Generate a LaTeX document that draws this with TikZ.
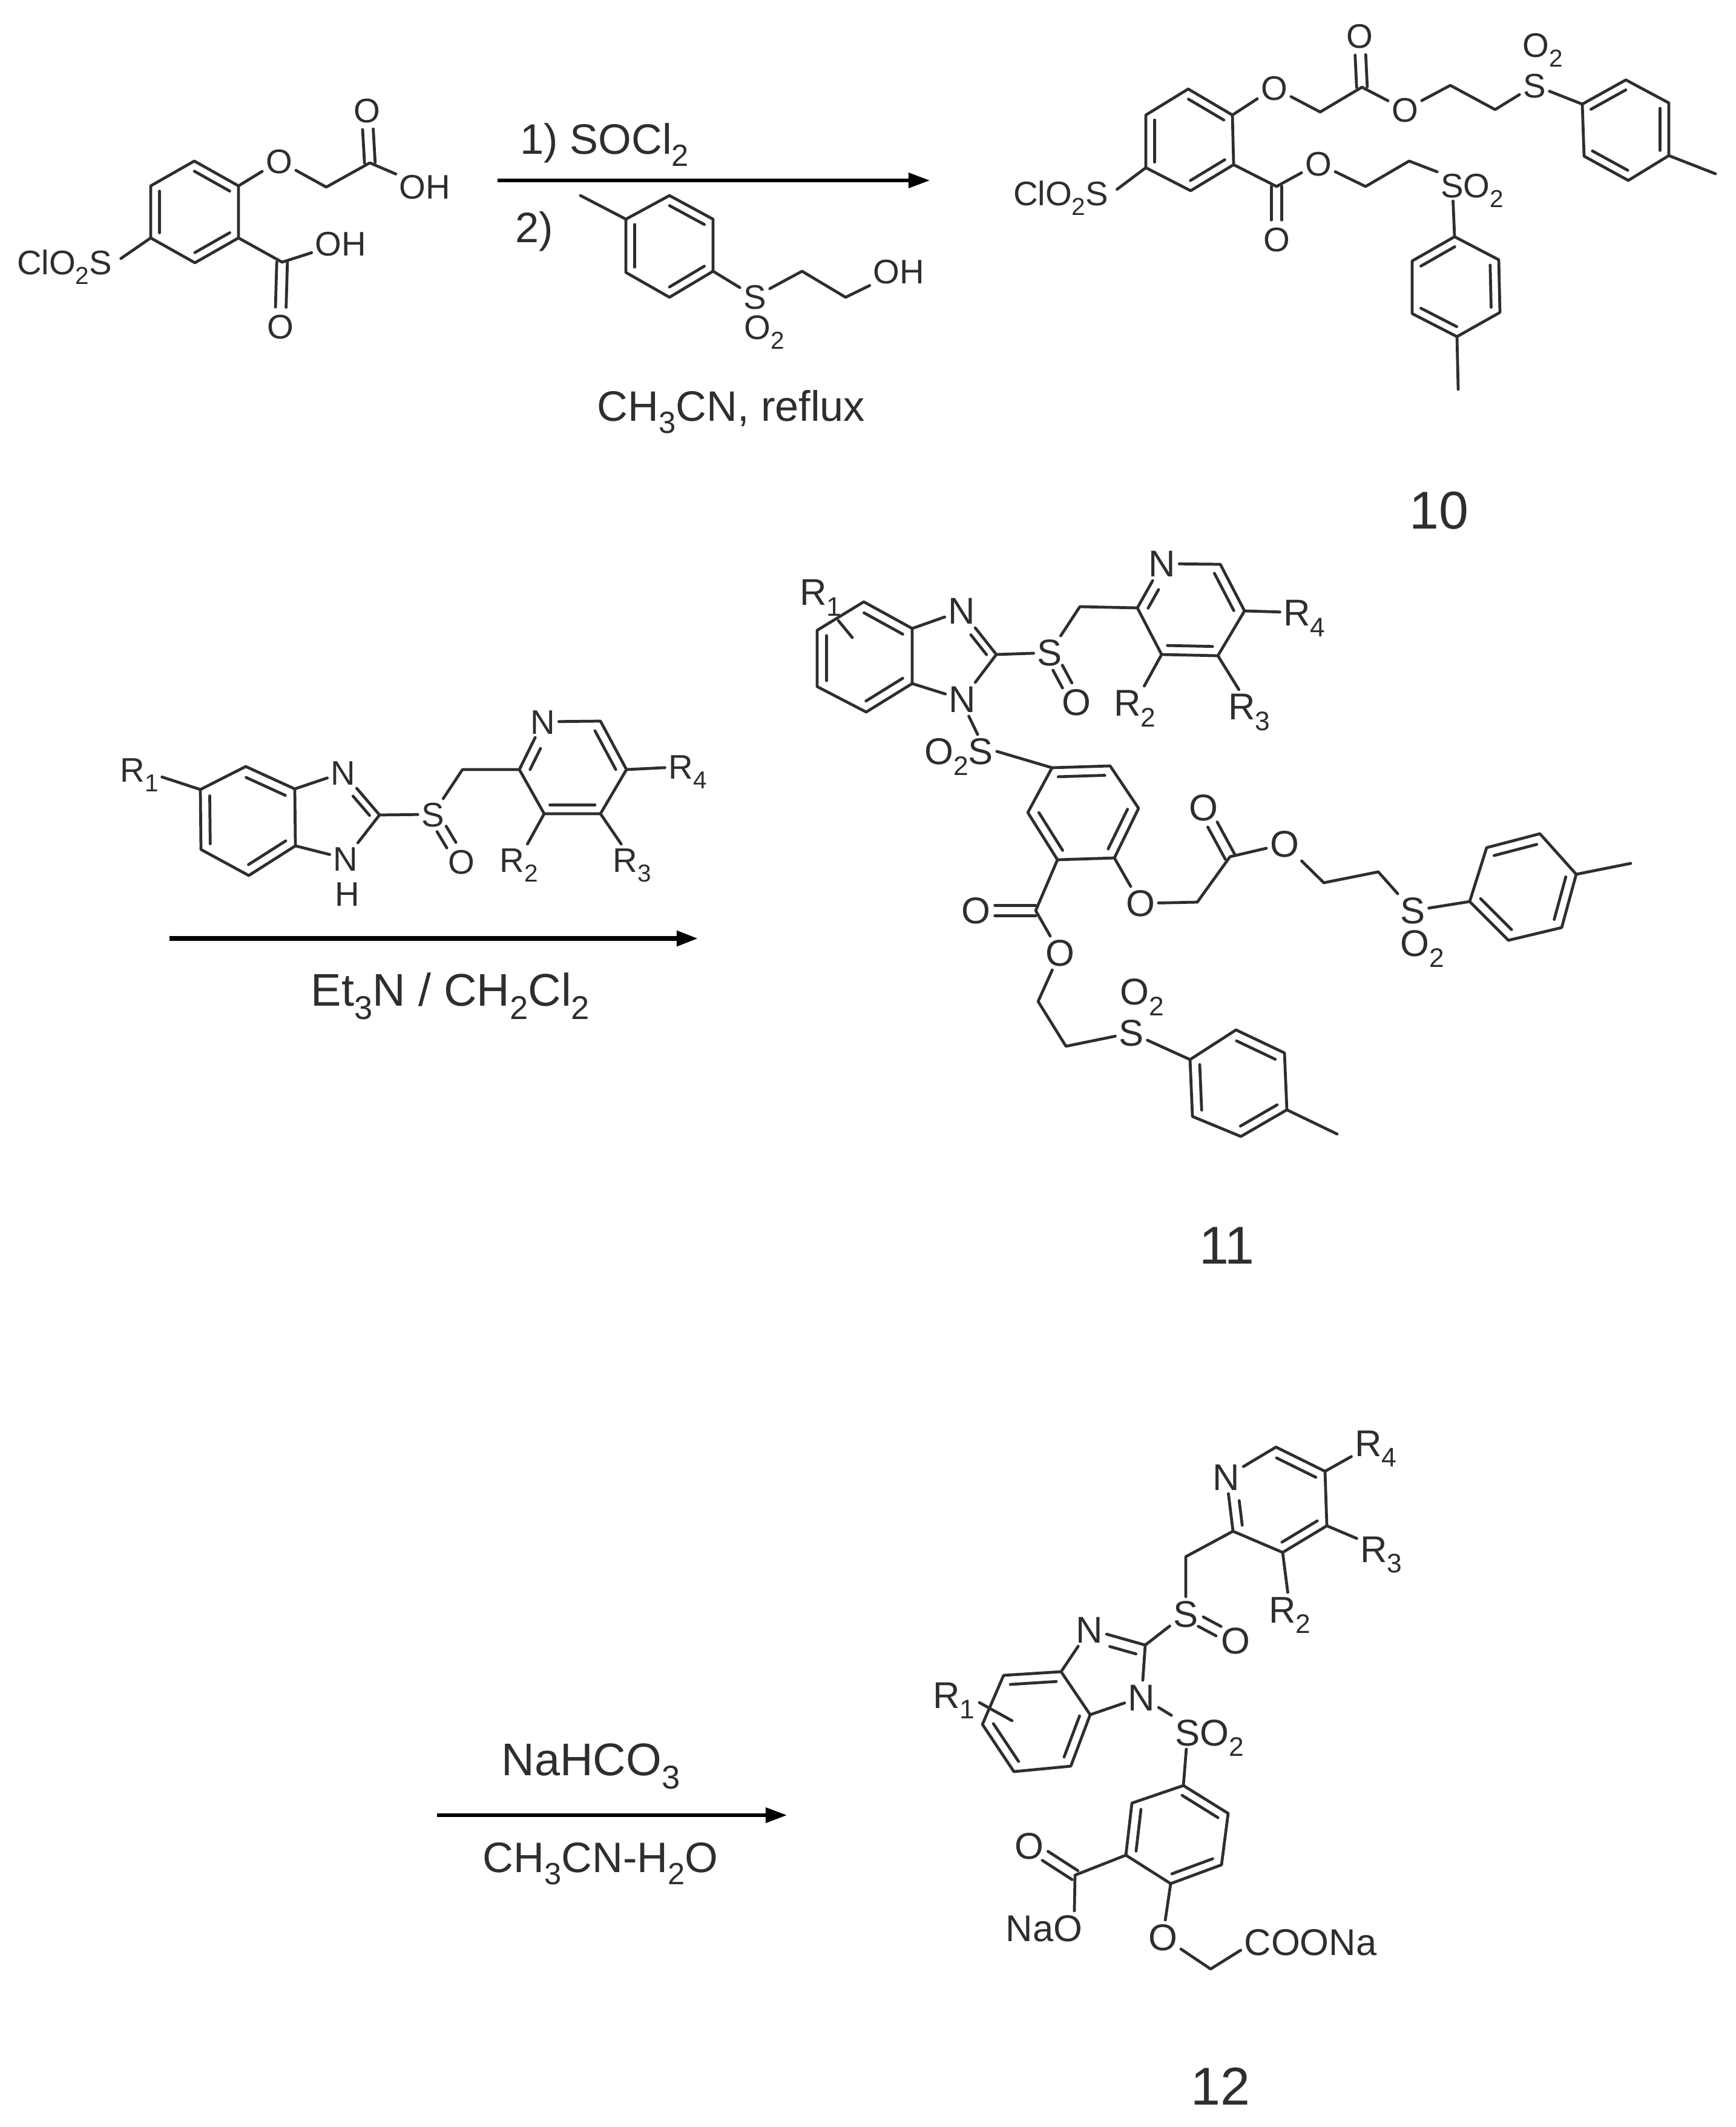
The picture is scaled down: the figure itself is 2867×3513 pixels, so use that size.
\documentclass[tikz,border=0pt]{standalone}
\usepackage{fontspec}
\usepackage{graphicx}
\setmainfont{Liberation Sans}
\usetikzlibrary{calc,arrows.meta}
\definecolor{ink}{HTML}{2E2E2E}
\newcommand\ssb[1]{\raisebox{-.29em}{\scalebox{.72}{#1}}}
\def\asz{16}
\def\ath{11.4pt}
\tikzset{
  bond/.style={draw=ink,line width=1.35pt,line cap=round,line join=round},
  atom/.style={font=\fontsize{\asz}{18}\selectfont,text=ink,inner sep=1.5pt,text height=\ath,text depth=0pt},
  lab/.style={font=\fontsize{20}{24}\selectfont,text=ink,inner sep=0pt,text height=14.3pt,text depth=0pt},
  labb/.style={lab,font=\fontsize{21.5}{24}\selectfont,text height=15.4pt},
  num/.style={lab,font=\fontsize{25}{28}\selectfont,text height=17.9pt},
  rxn/.style={draw=black,line width=1.5pt,-{Triangle[length=10pt,width=7pt]}},
}
% benzene ring: name, six points; inner lines on 1-2, 3-4, 5-6
\newcommand\bz[7]{%
  \coordinate (#11) at (#2);\coordinate (#12) at (#3);\coordinate (#13) at (#4);
  \coordinate (#14) at (#5);\coordinate (#15) at (#6);\coordinate (#16) at (#7);
  \coordinate (#1c) at ($(#11)!.5!(#14)$);
  \draw[bond] (#11)--(#12)--(#13)--(#14)--(#15)--(#16)--cycle;
  \inb{#11}{#12}{#1c}\inb{#13}{#14}{#1c}\inb{#15}{#16}{#1c}}
\newcommand\inb[3]{\draw[bond] ($(#1)!.2!(#3)$)--($(#2)!.2!(#3)$);}
% inner line toward a lettered atom #2
\newcommand\inn[3]{\draw[bond,shorten >=9pt] ($(#1)!.2!(#3)$)--($(#2)!.2!(#3)$);}
% C=O
\newcommand\dbo[2]{%
  \draw[bond,shorten >=9pt] ($(#1)!2.5pt!90:(#2)$)--($(#2)!2.5pt!-90:(#1)$);
  \draw[bond,shorten >=9pt] ($(#1)!2.5pt!-90:(#2)$)--($(#2)!2.5pt!90:(#1)$);}
% S=O
\newcommand\dbs[2]{%
  \draw[bond,shorten >=9pt,shorten <=8pt] ($(#1)!2.5pt!90:(#2)$)--($(#2)!2.5pt!-90:(#1)$);
  \draw[bond,shorten >=9pt,shorten <=8pt] ($(#1)!2.5pt!-90:(#2)$)--($(#2)!2.5pt!90:(#1)$);}
\begin{document}
\begin{tikzpicture}[x=0.01cm,y=-0.01cm]
\useasboundingbox (0,0) rectangle (2867,3513);
\fill[white] (0,0) rectangle (2867,3513);

%%% Compound A (starting acid)
\bz{Ar}{321,266}{394,307}{394,393}{322,434}{249,393}{249,307}
\node[atom,anchor=east] (As) at (191,433) {ClO\ssb{2}S};
\draw[bond,shorten >=3pt] (Ar5)--(As.east);
\node[atom] (Ao) at (461,266) {O};
\coordinate (Am) at (539,309);
\coordinate (Ac) at (611,269);
\node[atom] (Aod) at (606,182) {O};
\node[atom] (Aoh) at (702,308) {OH};
\draw[bond] (Ar2)--(Ao)--(Am)--(Ac)--(Aoh);
\dbo{Ac}{Aod}
\coordinate (Ab) at (466,433);
\node[atom] (Aoh2) at (563,402) {OH};
\node[atom] (Aob) at (463,539) {O};
\draw[bond] (Ar3)--(Ab)--(Aoh2);
\dbo{Ab}{Aob}

%%% Arrow 1
\coordinate (R1a) at (822,298);
\coordinate (R1b) at (1536,298);
\draw[rxn] (R1a)--(R1b);
\node[lab] (T1) at (999,229) {1) SOCl\ssb{2}};
\node[lab] (T2) at (883,375) {2)};
\node[lab] (T3) at (1208,670) {CH\ssb{3}CN, reflux};

%%% Reagent B
\bz{Br}{1034,450}{1034,362}{1106,323}{1178,362}{1178,448}{1106,491}
\coordinate (Bme) at (959,323);
\draw[bond] (Br2)--(Bme);
\node[atom] (Bs) at (1247,490) {S};
\node[atom] (Bo2) at (1263,540) {O\ssb{2}};
\coordinate (Bm1) at (1325,448);
\coordinate (Bm2) at (1397,491);
\node[atom] (Boh) at (1485,448) {OH};
\draw[bond] (Br5)--(Bs)--(Bm1)--(Bm2)--(Boh);

%%% Compound 10
\bz{Cr}{1963,147}{2036,190}{2038,272}{1967,315}{1893,277}{1893,190}
\node[atom,anchor=east] (Cs) at (1837,319) {ClO\ssb{2}S};
\draw[bond,shorten >=3pt] (Cr5)--(Cs.east);
\node[atom] (Co1) at (2105,145) {O};
\coordinate (Cm1) at (2181,185);
\coordinate (Cc1) at (2250,144);
\node[atom] (Cod1) at (2246,59) {O};
\node[atom] (Co2) at (2321,181) {O};
\coordinate (Cm2) at (2396,141);
\coordinate (Cm3) at (2470,181);
\node[atom] (Cs2) at (2535,141) {S};
\node[atom] (Coo2) at (2549,74) {O\ssb{2}};
\bz{Ct}{2614,172}{2686,132}{2757,170}{2757,257}{2690,298}{2617,258}
\coordinate (Cme1) at (2834,287);
\draw[bond] (Cr2)--(Co1)--(Cm1)--(Cc1)--(Co2)--(Cm2)--(Cm3)--(Cs2)--(Ct1);
\draw[bond] (Ct4)--(Cme1);
\dbo{Cc1}{Cod1}
\coordinate (Cc2) at (2109,308);
\node[atom] (Cod2) at (2109,395) {O};
\node[atom] (Co3) at (2178,270) {O};
\coordinate (Cm4) at (2256,308);
\coordinate (Cm5) at (2328,266);
\node[atom] (Cso) at (2432,306) {SO\ssb{2}};
\draw[bond] (Cr3)--(Cc2)--(Co3)--(Cm4)--(Cm5)--(Cso);
\dbo{Cc2}{Cod2}
\bz{Cb}{2403,391}{2333,431}{2333,518}{2407,556}{2478,516}{2476,429}
\coordinate (Cme2) at (2409,643);
\draw[bond] ([xshift=7.5pt]Cso.south west)--(Cb1);
\draw[bond] (Cb4)--(Cme2);
\node[num] (N10) at (2377,842) {10};

%%% Reagent D + arrow 2
\bz{Dr}{406,1266}{487,1303}{488,1397}{411,1446}{332,1403}{331,1304}
\node[atom] (Dr1l) at (230,1271) {R\ssb{1}};
\draw[bond] (Dr6)--(Dr1l);
\node[atom] (Dn1) at (567,1276) {N};
\coordinate (Dc2) at (627,1346);
\node[atom] (Dn2) at (571,1418) {N};
\node[atom] (Dh) at (574,1476) {H};
\coordinate (Dfc) at (545,1350);
\draw[bond] (Dr2)--(Dn1)--(Dc2)--(Dn2)--(Dr3);
\inn{Dc2}{Dn1}{Dfc}
\node[atom] (Ds) at (715,1345) {S};
\node[atom] (Do) at (762,1423) {O};
\coordinate (Dm) at (764,1271);
\coordinate (Dp2) at (858,1271);
\node[atom] (Dpn) at (897,1192) {N};
\coordinate (Dp6) at (992,1191);
\coordinate (Dp5) at (1035,1271);
\coordinate (Dp4) at (992,1344);
\coordinate (Dp3) at (899,1344);
\coordinate (Dpc) at ($(Dp2)!.5!(Dp5)$);
\draw[bond] (Dc2)--(Ds)--(Dm)--(Dp2)--(Dpn)--(Dp6)--(Dp5)--(Dp4)--(Dp3)--(Dp2);
\dbs{Ds}{Do}
\inn{Dp2}{Dpn}{Dpc}
\inb{Dp6}{Dp5}{Dpc}
\inb{Dp4}{Dp3}{Dpc}
\node[atom] (Dr4) at (1136,1266) {R\ssb{4}};
\node[atom] (Dr2l) at (857,1420) {R\ssb{2}};
\node[atom] (Dr3l) at (1044,1420) {R\ssb{3}};
\draw[bond] (Dp5)--(Dr4);
\draw[bond] (Dp3)--(Dr2l);
\draw[bond] (Dp4)--(Dr3l);
\coordinate (R2a) at (280,1550);
\coordinate (R2b) at (1153,1550);
\draw[rxn,line width=2pt] (R2a)--(R2b);
\node[labb] (T4) at (744,1634) {Et\ssb{3}N / CH\ssb{2}Cl\ssb{2}};

%%% Compound 11
\def\asz{17.5}
\def\ath{12.5pt}
\bz{Eb}{1427,994}{1507,1038}{1507,1129}{1431,1176}{1350,1134}{1350,1041}
\node[atom] (Er1) at (1356,978) {R\ssb{1}};
\coordinate (Est1) at (1385,1025);
\coordinate (Est2) at (1408,1053);
\draw[bond] (Est1)--(Est2);
\node[atom] (En1) at (1589,1009) {N};
\coordinate (Ec2) at (1646,1081);
\node[atom] (En2) at (1590,1155) {N};
\coordinate (Efc) at (1565,1082);
\draw[bond] (Eb2)--(En1)--(Ec2)--(En2)--(Eb3);
\inn{Ec2}{En1}{Efc}
\node[atom] (Es) at (1734,1078) {S};
\node[atom] (Eo) at (1778,1160) {O};
\coordinate (Em) at (1784,1002);
\coordinate (Ep2) at (1879,1004);
\node[atom] (Epn) at (1920,931) {N};
\coordinate (Ep6) at (2016,932);
\coordinate (Ep5) at (2056,1009);
\coordinate (Ep4) at (2012,1083);
\coordinate (Ep3) at (1919,1081);
\coordinate (Epc) at ($(Ep2)!.5!(Ep5)$);
\draw[bond] (Ec2)--(Es)--(Em)--(Ep2)--(Epn)--(Ep6)--(Ep5)--(Ep4)--(Ep3)--(Ep2);
\dbs{Es}{Eo}
\inn{Ep2}{Epn}{Epc}
\inb{Ep6}{Ep5}{Epc}
\inb{Ep4}{Ep3}{Epc}
\node[atom] (Er4) at (2155,1012) {R\ssb{4}};
\node[atom] (Er2) at (1875,1161) {R\ssb{2}};
\node[atom] (Er3) at (2064,1167) {R\ssb{3}};
\draw[bond] (Ep5)--(Er4);
\draw[bond] (Ep3)--(Er2);
\draw[bond] (Ep4)--(Er3);
\node[atom] (Eso) at (1584,1241) {O\ssb{2}S};
\bz{Ea}{1738,1268}{1834,1265}{1881,1335}{1841,1417}{1747,1420}{1698,1342}
\draw[bond] ([xshift=3pt]En2.south)--([xshift=-9pt]Eso.north east);
\draw[bond] (Eso.east)--(Ea1);
\node[atom] (Eo1) at (1884,1492) {O};
\coordinate (Em1) at (1978,1490);
\coordinate (Ecc) at (2032,1415);
\node[atom] (Eod) at (1988,1334) {O};
\node[atom] (Eo2) at (2122,1394) {O};
\coordinate (Em2) at (2187,1458);
\coordinate (Em3) at (2277,1440);
\node[atom] (Es2) at (2334,1504) {S};
\node[atom] (Eoo2) at (2350,1558) {O\ssb{2}};
\bz{Et}{2492,1553}{2428,1489}{2456,1400}{2544,1377}{2604,1444}{2580,1532}
\coordinate (Eme1) at (2694,1426);
\draw[bond] (Ea4)--(Eo1)--(Em1)--(Ecc)--(Eo2)--(Em2)--(Em3)--(Es2)--(Et2);
\draw[bond] (Et5)--(Eme1);
\dbo{Ecc}{Eod}
\coordinate (Ecd) at (1711,1504);
\node[atom] (Eod2) at (1612,1504) {O};
\node[atom] (Eo3) at (1751,1574) {O};
\coordinate (Em4) at (1715,1654);
\coordinate (Em5) at (1761,1728);
\node[atom] (Es3) at (1869,1706) {S};
\node[atom] (Eoo3) at (1887,1638) {O\ssb{2}};
\bz{Eu}{1970,1844}{1966,1750}{2042,1701}{2122,1739}{2126,1833}{2050,1877}
\coordinate (Eme2) at (2209,1873);
\draw[bond] (Ea5)--(Ecd)--(Eo3)--(Em4)--(Em5)--(Es3)--(Eu2);
\draw[bond] (Eu5)--(Eme2);
\dbo{Ecd}{Eod2}
\node[num] (N11) at (2027,2056) {11};

%%% Arrow 3
\coordinate (R3a) at (722,2998);
\coordinate (R3b) at (1300,2998);
\draw[rxn] (R3a)--(R3b);
\node[labb] (T5) at (976,2905) {NaHCO\ssb{3}};
\node[lab] (T6) at (992,3067) {CH\ssb{3}CN-H\ssb{2}O};

%%% Compound 12
\bz{Fb}{1658,2767}{1753,2761}{1801,2832}{1769,2917}{1675,2926}{1623,2848}
\node[atom] (Fr1) at (1576,2799) {R\ssb{1}};
\coordinate (Fst1) at (1618,2812);
\coordinate (Fst2) at (1672,2842);
\draw[bond] (Fst1)--(Fst2);
\node[atom] (Fn1) at (1800,2691) {N};
\coordinate (Fc2) at (1892,2717);
\node[atom] (Fn2) at (1886,2803) {N};
\coordinate (Ffc) at (1815,2790);
\draw[bond] (Fb2)--(Fn1)--(Fc2)--(Fn2)--(Fb3);
\draw[bond,shorten <=9pt] ($(Fn1)!.2!(Ffc)$)--($(Fc2)!.2!(Ffc)$);
\node[atom] (Fs) at (1959,2665) {S};
\node[atom] (Fo) at (2041,2709) {O};
\coordinate (Fm) at (1959,2571);
\coordinate (Fp2) at (2037,2529);
\node[atom] (Fpn) at (2026,2439) {N};
\coordinate (Fp6) at (2108,2390);
\coordinate (Fp5) at (2189,2430);
\coordinate (Fp4) at (2192,2520);
\coordinate (Fp3) at (2119,2564);
\coordinate (Fpc) at ($(Fp2)!.5!(Fp5)$);
\draw[bond] (Fc2)--(Fs)--(Fm)--(Fp2)--(Fpn)--(Fp6)--(Fp5)--(Fp4)--(Fp3)--(Fp2);
\dbs{Fs}{Fo}
\inn{Fp2}{Fpn}{Fpc}
\inb{Fp6}{Fp5}{Fpc}
\inb{Fp4}{Fp3}{Fpc}
\node[atom] (Fr4) at (2273,2383) {R\ssb{4}};
\node[atom] (Fr3) at (2282,2558) {R\ssb{3}};
\node[atom] (Fr2) at (2131,2658) {R\ssb{2}};
\draw[bond] (Fp5)--(Fr4);
\draw[bond] (Fp4)--(Fr3);
\draw[bond] (Fp3)--(Fr2);
\node[atom] (Fso) at (1998,2861) {SO\ssb{2}};
\bz{Fa}{1955,2949}{2029,2995}{2018,3080}{1934,3111}{1860,3064}{1870,2978}
\draw[bond] (Fn2)--(Fso.north west);
\draw[bond] ([xshift=7pt]Fso.south west)--(Fa1);
\coordinate (Fcc) at (1776,3097);
\node[atom] (Fod) at (1700,3048) {O};
\node[atom] (Fna) at (1725,3184) {NaO};
\draw[bond] (Fa5)--(Fcc)--([xshift=-5.5pt]Fna.north east);
\dbo{Fcc}{Fod}
\node[atom] (Fo1) at (1921,3199) {O};
\coordinate (Fm1) at (2000,3252);
\node[atom] (Fcoo) at (2165,3207) {COONa};
\draw[bond] (Fa4)--(Fo1)--(Fm1)--([yshift=-4pt]Fcoo.west);
\node[num] (N12) at (2016,3445) {12};
\end{tikzpicture}
\end{document}
